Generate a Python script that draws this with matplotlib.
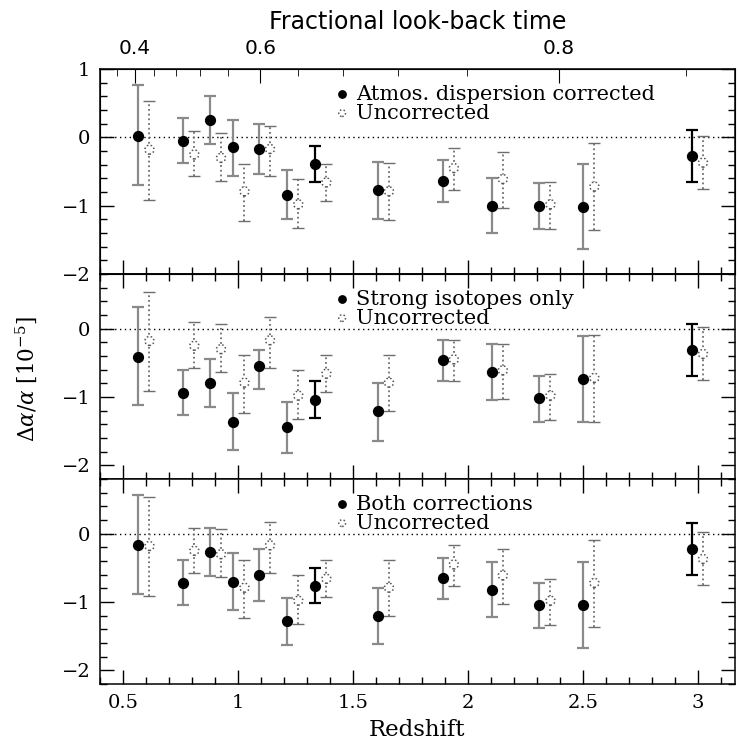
import numpy as np
import matplotlib
matplotlib.use('Agg')
import matplotlib.pyplot as plt
from matplotlib.ticker import MultipleLocator, FixedLocator, NullFormatter

# redshift of each absorber sample bin
z = [0.567, 0.762, 0.878, 0.980, 1.091, 1.214, 1.336, 1.608, 1.890, 2.103, 2.310, 2.501, 2.973]

# uncorrected values (same in every panel): value, top and bottom of the bar
unc_y = [-0.18, -0.25, -0.30, -0.79, -0.17, -0.98, -0.66, -0.79, -0.45, -0.61, -0.98, -0.72, -0.37]
unc_hi = [0.53, 0.09, 0.07, -0.39, 0.17, -0.61, -0.39, -0.38, -0.16, -0.22, -0.66, -0.09, 0.02]
unc_lo = [-0.91, -0.57, -0.64, -1.23, -0.57, -1.32, -0.93, -1.21, -0.77, -1.03, -1.34, -1.36, -0.75]

atm_y = [0.02, -0.05, 0.26, -0.14, -0.17, -0.84, -0.39, -0.77, -0.64, -1.00, -1.00, -1.02, -0.27]
atm_hi = [0.76, 0.28, 0.61, 0.26, 0.19, -0.48, -0.12, -0.36, -0.33, -0.59, -0.67, -0.39, 0.11]
atm_lo = [-0.70, -0.38, -0.10, -0.56, -0.54, -1.19, -0.66, -1.20, -0.94, -1.40, -1.34, -1.64, -0.66]

iso_y = [-0.41, -0.94, -0.80, -1.36, -0.54, -1.44, -1.04, -1.21, -0.46, -0.63, -1.02, -0.74, -0.32]
iso_hi = [0.32, -0.60, -0.44, -0.94, -0.32, -1.08, -0.77, -0.80, -0.16, -0.23, -0.70, -0.11, 0.07]
iso_lo = [-1.12, -1.27, -1.15, -1.77, -0.89, -1.82, -1.31, -1.64, -0.77, -1.04, -1.37, -1.37, -0.70]

both_y = [-0.16, -0.72, -0.27, -0.71, -0.60, -1.28, -0.76, -1.21, -0.65, -0.82, -1.04, -1.05, -0.23]
both_hi = [0.57, -0.39, 0.08, -0.29, -0.23, -0.94, -0.50, -0.80, -0.36, -0.41, -0.72, -0.42, 0.16]
both_lo = [-0.88, -1.04, -0.62, -1.11, -0.98, -1.63, -1.02, -1.62, -0.95, -1.22, -1.38, -1.68, -0.61]

labels = ['Atmos. dispersion corrected', 'Strong isotopes only', 'Both corrections']
lookback_major = [0.4, 0.6, 0.8]
lookback_minor = [0.36, 0.44, 0.48, 0.52, 0.56, 0.64, 0.68, 0.72, 0.76, 0.84]

dark_bars = [6, 12]   # bins whose error bar is drawn in black
z_shift = 0.048       # uncorrected points are offset to the right

plt.rcParams['font.family'] = ['DejaVu Serif']
plt.rcParams['mathtext.fontset'] = 'dejavuserif'


def frac_lookback(zz):
    # flat LCDM, Om=0.3, OL=0.7
    om, ol = 0.3, 0.7
    t = lambda x: 2 / (3 * np.sqrt(ol)) * np.arcsinh(np.sqrt(ol / om) * (1 + x) ** -1.5)
    return 1 - t(np.asarray(zz)) / t(0.0)


zgrid = np.linspace(0.0, 6.0, 6001)
fgrid = frac_lookback(zgrid)


def z_of(f):
    return np.interp(f, fgrid, zgrid)


def ylab(v, p):
    return ('%d' % v).replace('-', '\u2212')


fig = plt.figure(figsize=(7.38, 7.53), dpi=100)
left, width, h = 0.1355, 0.8604, 0.2723
bottoms = [0.6361, 0.3639, 0.0916]
ylims = [(-2, 1), (-2.2, 0.8), (-2.2, 0.8)]
panels = [(atm_y, atm_hi, atm_lo), (iso_y, iso_hi, iso_lo), (both_y, both_hi, both_lo)]

axes = []
for k in range(3):
    ax = fig.add_axes([left, bottoms[k], width, h])
    axes.append(ax)
    yv, hi, lo = panels[k]
    ax.axhline(0, color='black', ls=(0, (1, 2.5)), lw=1.0, zorder=1)

    zu = np.array(z) + z_shift
    for i in range(len(z)):
        ax.errorbar(zu[i], unc_y[i], yerr=[[unc_y[i] - unc_lo[i]], [unc_hi[i] - unc_y[i]]],
                    fmt='none', ecolor='#6e6e6e', elinewidth=1.3, capsize=4, capthick=1.0,
                    zorder=2)[2][0].set_linestyle((0, (1, 1.6)))
        col = 'black' if i in dark_bars else '#8a8a8a'
        ax.errorbar(z[i], yv[i], yerr=[[yv[i] - lo[i]], [hi[i] - yv[i]]],
                    fmt='none', ecolor=col, elinewidth=1.6, capsize=4.5, capthick=1.6, zorder=3)
    h_unc = ax.scatter(zu, unc_y, s=42, facecolors='white', edgecolors='#555555',
                       linewidths=1.1, linestyles=(0, (1, 1.5)), zorder=4)
    h_cor = ax.scatter(z, yv, s=50, color='black', zorder=5)

    ax.legend([h_cor, h_unc], [labels[k], 'Uncorrected'], loc='upper left',
              bbox_to_anchor=(0.342, 0.995), frameon=False, fontsize=15,
              handletextpad=0.15, labelspacing=0.0, borderpad=0.2,
              handlelength=1.0, markerscale=0.75)

    ax.set_xlim(0.4, 3.16)
    ax.set_ylim(*ylims[k])
    ax.xaxis.set_major_locator(MultipleLocator(0.5))
    ax.xaxis.set_minor_locator(MultipleLocator(0.1))
    ax.yaxis.set_major_locator(MultipleLocator(1))
    ax.yaxis.set_minor_locator(MultipleLocator(0.2))
    ax.tick_params(which='both', direction='in', right=True, top=(k > 0),
                   labelsize=14, width=1.0, pad=7)
    ax.tick_params(which='major', length=10)
    ax.tick_params(which='minor', length=5)
    for s in ax.spines.values():
        s.set_linewidth(1.1)
    if k < 2:
        ax.xaxis.set_major_formatter(NullFormatter())
    ax.yaxis.set_major_formatter(plt.FuncFormatter(ylab))

axes[2].xaxis.set_major_formatter(plt.FuncFormatter(lambda v, p: '%g' % v))
axes[2].set_xlabel('Redshift', fontsize=16.5, labelpad=5)

# top axis: fractional look-back time
top = axes[0].twiny()
top.set_xlim(axes[0].get_xlim())
top.xaxis.set_major_locator(FixedLocator(z_of(lookback_major)))
top.xaxis.set_minor_locator(FixedLocator(z_of(lookback_minor)))
top.set_xticklabels(['%.1f' % f for f in lookback_major], family='DejaVu Sans', fontsize=14.5)
top.tick_params(which='both', direction='in', pad=8)
top.tick_params(which='major', length=10)
top.tick_params(which='minor', length=5)
top.set_xlabel('Fractional look-back time', family='DejaVu Sans', fontsize=17, labelpad=7)

fig.text(0.035, 0.497, r'$\Delta\alpha/\alpha$ [10$^{-5}$]', rotation=90,
         ha='center', va='center', fontsize=15.5)

plt.savefig('out.png', dpi=100)
